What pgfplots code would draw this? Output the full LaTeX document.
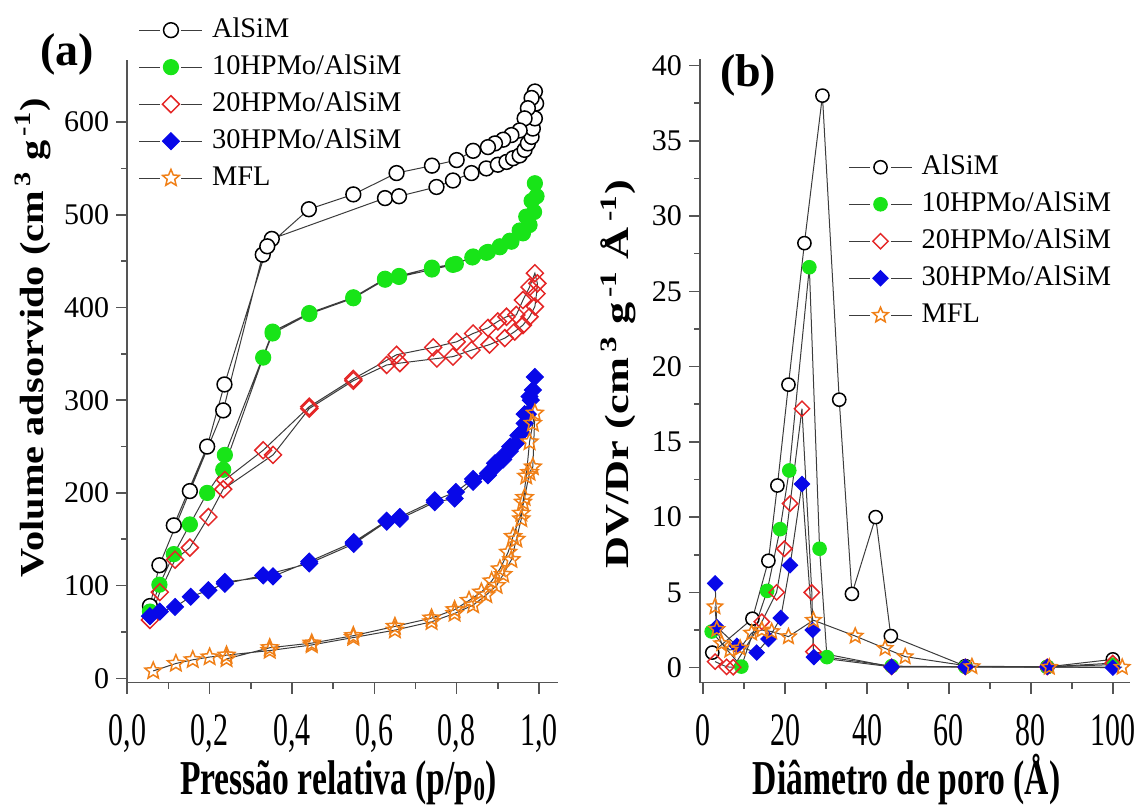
\documentclass[border=0pt]{standalone}
\usepackage{fontspec}
\setmainfont{Liberation Serif}
\usepackage{graphicx}
\usepackage{pgfplots}
\pgfplotsset{compat=1.18}

\definecolor{cgreen}{RGB}{24,228,24}
\definecolor{cred}{RGB}{228,38,38}
\definecolor{cblue}{RGB}{8,8,232}
\definecolor{corange}{RGB}{240,128,24}
\definecolor{cline}{RGB}{60,60,60}
\definecolor{caxis}{RGB}{85,85,85}

% outlined five-pointed star
\pgfdeclareplotmark{ostar}{%
  \pgfpathmoveto{\pgfpointpolar{90}{\pgfplotmarksize}}%
  \pgfpathlineto{\pgfpointpolar{126}{0.45\pgfplotmarksize}}%
  \pgfpathlineto{\pgfpointpolar{162}{\pgfplotmarksize}}%
  \pgfpathlineto{\pgfpointpolar{198}{0.45\pgfplotmarksize}}%
  \pgfpathlineto{\pgfpointpolar{234}{\pgfplotmarksize}}%
  \pgfpathlineto{\pgfpointpolar{270}{0.45\pgfplotmarksize}}%
  \pgfpathlineto{\pgfpointpolar{306}{\pgfplotmarksize}}%
  \pgfpathlineto{\pgfpointpolar{342}{0.45\pgfplotmarksize}}%
  \pgfpathlineto{\pgfpointpolar{18}{\pgfplotmarksize}}%
  \pgfpathlineto{\pgfpointpolar{54}{0.45\pgfplotmarksize}}%
  \pgfpathclose
  \pgfusepathqstroke
}

\pgfplotsset{
  panel/.style={
    scale only axis, width=215.2pt, height=311.6pt,
    clip=false,
    axis x line*=bottom, axis y line*=left,
    axis line style={caxis, line width=0.8pt},
    tick align=outside,
    major tick length=5.5pt, minor tick length=3pt,
    every tick/.style={caxis, line width=0.8pt},
    /pgf/number format/assume math mode=true,
    tick label style={font=\fontsize{15}{17}\selectfont},
    xticklabel style={yshift=-7pt},
    label style={font=\fontsize{16.8}{20}\selectfont\bfseries},
    legend cell align=left,
    legend style={draw=none, fill=none, anchor=north west,
      font=\fontsize{14.2}{16}\selectfont,
      nodes={inner sep=0pt, text height=10pt, text depth=3pt},
      row sep=5.5pt, column sep=4.5pt},
    legend image code/.code={%
      \draw[cline, line width=0.6pt] (0pt,0pt) -- (10.5pt,0pt) (21pt,0pt) -- (31.5pt,0pt);
      \draw[##1] plot coordinates {(15.75pt,0pt)};
    },
  },
  s1/.style={cline, line width=0.5pt, mark=*, mark options={draw=black, fill=white, line width=0.75pt}},
  s2/.style={cline, line width=0.5pt, mark=*, mark options={draw=cgreen, fill=cgreen}},
  s3/.style={cline, line width=0.5pt, mark=square, mark options={draw=cred, fill=none, rotate=45, line width=0.75pt}},
  s4/.style={cline, line width=0.5pt, mark=square*, mark options={draw=cblue, fill=cblue, rotate=45}},
  s5/.style={cline, line width=0.5pt, mark=ostar, mark options={draw=corange, line width=0.75pt}},
}

\begin{document}
\begin{tikzpicture}
\useasboundingbox (-63.65pt,-63.15pt) rectangle (504.85pt,341.35pt);

% (a) N2 isotherms
\begin{axis}[panel, at={(0pt,0pt)}, anchor=south west,
  xmin=0, xmax=1.0454, ymin=-4.7, ymax=667.5,
  xtick={0,0.2,0.4,0.6,0.8,1}, minor x tick num=1,
  ytick={0,100,200,300,400,500,600}, minor y tick num=1,
  xticklabel={\scalebox{1}[1.55]{\pgfmathprintnumber[fixed,fixed zerofill,precision=1,use comma]{\tick}}},
  xlabel={\scalebox{1}[1.45]{Pressão relativa (p/p\raisebox{-0.25ex}{\fontsize{11.5}{12}\selectfont 0})}},
  ylabel={\scalebox{1.2}[1]{Volume adsorvido (cm\textsuperscript{\,3} g\textsuperscript{\,-1})}},
  xlabel style={at={(axis description cs:0.49,-0.18)}, anchor=base},
  ylabel style={at={(axis description cs:-0.219,0.554)}, anchor=center},
  legend style={at={(axis description cs:0.012,1.075)}},
]
\addplot[s1, mark size=3.7pt] coordinates {
 (0.055,78) (0.078,122) (0.152,202) (0.233,289) (0.329,457) (0.351,474)
 (0.626,518) (0.660,520) (0.751,530) (0.791,537) (0.836,545) (0.872,550)
 (0.900,554) (0.921,557) (0.937,561) (0.953,564) (0.965,570) (0.973,577)
 (0.982,584) (0.985,593) (0.990,604) (0.993,620)
 (0.990,633) (0.982,626) (0.973,615) (0.965,604) (0.953,591) (0.933,586)
 (0.913,581) (0.893,577) (0.876,573) (0.840,569) (0.800,559) (0.740,553)
 (0.654,545) (0.549,522) (0.441,506) (0.340,466) (0.236,317) (0.194,250)
 (0.113,165)};
\addlegendentry{AlSiM}
\addplot[s2, mark size=3.8pt] coordinates {
 (0.055,72) (0.078,101) (0.113,134) (0.152,166) (0.194,200) (0.233,225)
 (0.330,346) (0.353,372) (0.442,393) (0.549,410) (0.626,430) (0.660,433)
 (0.740,441) (0.791,446) (0.838,454) (0.872,459) (0.905,465) (0.929,472)
 (0.953,483) (0.969,498) (0.982,515) (0.990,534)
 (0.994,520) (0.988,503) (0.977,489) (0.961,480) (0.933,471) (0.905,466)
 (0.876,460) (0.840,455) (0.798,447) (0.740,443) (0.660,434) (0.626,431)
 (0.549,411) (0.442,394) (0.353,374) (0.237,241)};
\addlegendentry{10HPMo/AlSiM}
\addplot[s3, mark size=3pt] coordinates {
 (0.055,63) (0.079,93) (0.116,128) (0.152,141) (0.197,174) (0.233,204)
 (0.354,241) (0.442,291) (0.549,321) (0.630,338) (0.662,340) (0.752,345)
 (0.791,347) (0.836,354) (0.880,360) (0.917,367) (0.941,374) (0.961,381)
 (0.977,390) (0.990,401) (0.994,415) (0.996,426) (0.990,437)
 (0.977,422) (0.961,408) (0.945,392) (0.921,390) (0.900,385) (0.876,378)
 (0.840,372) (0.800,363) (0.743,357) (0.654,349) (0.549,323) (0.442,293)
 (0.330,246) (0.237,214)};
\addlegendentry{20HPMo/AlSiM}
\addplot[s4, mark size=3pt] coordinates {
 (0.055,67) (0.079,72) (0.116,77) (0.154,88) (0.197,95) (0.237,102)
 (0.330,111) (0.442,124) (0.550,145) (0.630,169) (0.662,172) (0.747,190)
 (0.795,194) (0.840,212) (0.876,219) (0.893,228) (0.913,236) (0.929,245)
 (0.945,254) (0.957,265) (0.965,275) (0.973,285) (0.980,300) (0.990,325)
 (0.985,311) (0.977,304) (0.965,285) (0.950,262) (0.930,250) (0.913,240)
 (0.893,232) (0.876,221) (0.840,215) (0.798,201) (0.747,192) (0.662,174)
 (0.630,170) (0.550,147) (0.442,126) (0.354,110) (0.237,104)};
\addlegendentry{30HPMo/AlSiM}
\addplot[s5, mark size=4.4pt] coordinates {
 (0.063,8) (0.118,16) (0.159,20) (0.200,23) (0.241,25) (0.346,30)
 (0.448,36) (0.549,44) (0.650,52) (0.739,61) (0.795,70) (0.840,79)
 (0.872,90) (0.897,100) (0.913,112) (0.933,128) (0.945,150) (0.957,172)
 (0.961,190) (0.969,218) (0.977,255) (0.985,275) (0.990,286)
 (0.985,228) (0.977,222) (0.965,195) (0.957,178) (0.937,153) (0.925,136)
 (0.905,118) (0.885,105) (0.860,93) (0.830,84) (0.795,74) (0.739,65)
 (0.650,56) (0.549,46) (0.448,38) (0.346,33) (0.241,21)};
\addlegendentry{MFL}
\node[font=\fontsize{23}{26}\selectfont\bfseries] at (axis description cs:-0.14,1.008) {(a)};
\end{axis}

% (b) pore size distribution
\begin{axis}[panel, at={(286.35pt,0pt)}, anchor=south west,
  xmin=-0.8, xmax=104.3, ymin=-1, ymax=40.4,
  xtick={0,20,40,60,80,100}, minor x tick num=1,
  ytick={0,5,10,15,20,25,30,35,40}, minor y tick num=1,
  xticklabel={\scalebox{1}[1.55]{\pgfmathprintnumber{\tick}}},
  xlabel={\scalebox{1}[1.45]{Diâmetro de poro (Å)}},
  ylabel={\scalebox{1.32}[1]{DV/Dr (cm\textsuperscript{\,3} g\textsuperscript{\,-1} Å\textsuperscript{\,-1})}},
  xlabel style={at={(axis description cs:0.48,-0.18)}, anchor=base},
  ylabel style={at={(axis description cs:-0.19,0.495)}, anchor=center},
  legend style={at={(axis description cs:0.33,0.855)}},
]
\addplot[s1, mark size=3.3pt] coordinates {
 (2.2,1.0) (12.0,3.25) (15.9,7.1) (18.1,12.1) (20.8,18.8) (24.7,28.2)
 (29.1,38.0) (33.2,17.8) (36.3,4.9) (42.1,10.0) (45.8,2.1) (64,0.1)
 (84,0.05) (100,0.55)};
\addlegendentry{AlSiM}
\addplot[s2, mark size=3.4pt] coordinates {
 (2.05,2.4) (9.3,0.07) (15.6,5.1) (18.75,9.2) (21.0,13.1) (25.9,26.6)
 (28.4,7.9) (30.2,0.7) (46,0.1) (64,0.05) (84,0.05) (100,0.2)};
\addlegendentry{10HPMo/AlSiM}
\addplot[s3, mark size=2.7pt] coordinates {
 (2.9,0.4) (5.7,0.05) (7.3,0.03) (14.3,3.05) (17.9,5.0) (19.8,7.9)
 (21.2,10.9) (24.1,17.2) (26.5,5.0) (26.9,1.06) (46,0.05) (64,0.05)
 (84,0.05) (100,0.3)};
\addlegendentry{20HPMo/AlSiM}
\addplot[s4, mark size=2.7pt] coordinates {
 (2.9,5.6) (3.3,2.7) (8.2,1.45) (13.05,1.0) (15.9,1.9) (18.9,3.3)
 (21.2,6.8) (24.1,12.2) (26.7,2.5) (27.0,0.7) (46,0.05) (64,0.05)
 (84,0.05) (100,0.0)};
\addlegendentry{30HPMo/AlSiM}
\addplot[s5, mark size=4pt] coordinates {
 (2.86,4.05) (3.3,2.55) (4.5,1.6) (6.5,1.17) (9.0,1.3) (11.8,2.3)
 (14.3,2.5) (16.7,2.4) (20.8,2.06) (26.9,3.15) (37.1,2.1) (44.4,1.28)
 (49.3,0.73) (65.6,0.07) (84.5,0.03) (102.3,0.03)};
\addlegendentry{MFL}
\node[font=\fontsize{23}{26}\selectfont\bfseries] at (axis description cs:0.112,0.975) {(b)};
\end{axis}
\end{tikzpicture}
\end{document}
